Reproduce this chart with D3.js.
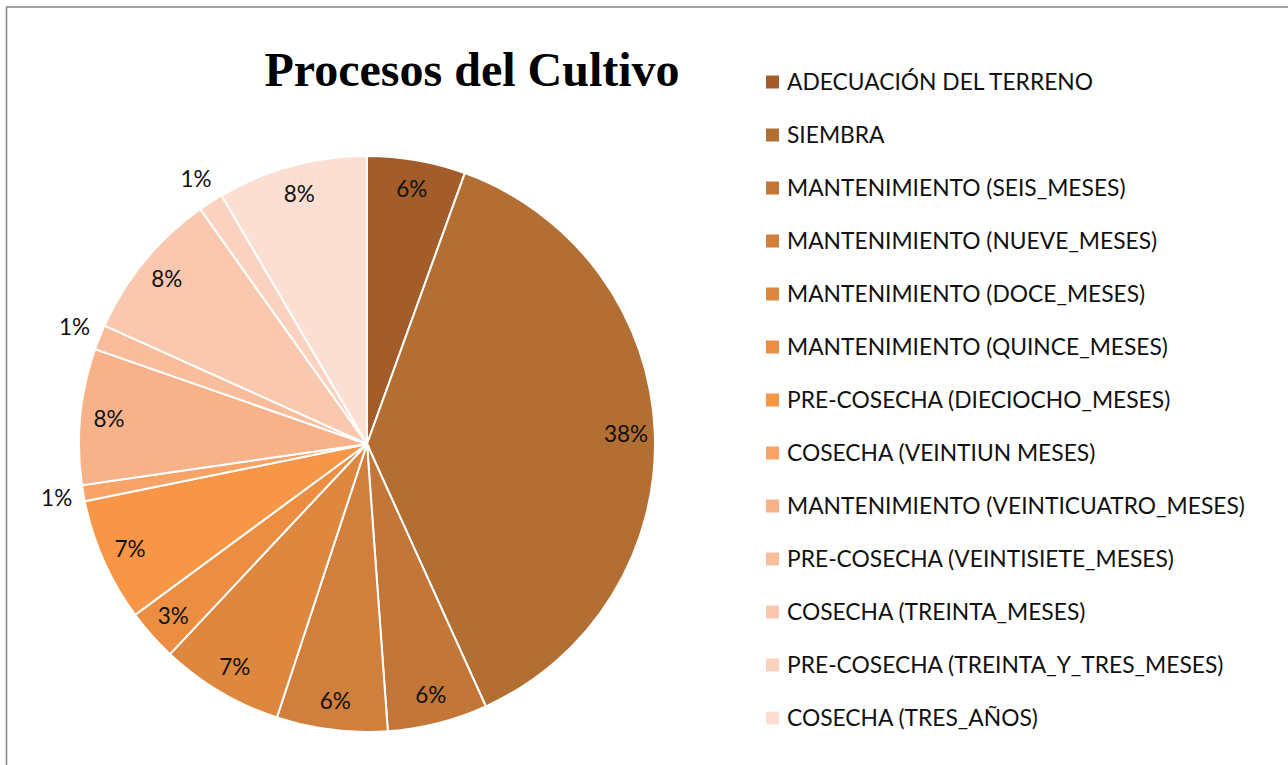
<!DOCTYPE html>
<html>
<head>
    <meta charset="utf-8">
    <script src="https://d3js.org/d3.v7.min.js"></script>
    <style>
        html, body {
            margin: 0;
            padding: 0;
            background: #fff;
        }

        svg {
            display: block;
        }

        .title {
            font-family: "Liberation Serif", "Times New Roman", serif;
            font-weight: bold;
            font-size: 48px;
        }

        .slices path {
            stroke: #fff;
            stroke-width: 2px;
        }

        .labels text, .legend text {
            font-family: Lato, "Open Sans", sans-serif;
            fill: #111;
        }
    </style>
</head>
<body>
<div id="chart"></div>
<script>
    var categories = [
        "ADECUACIÓN DEL TERRENO",
        "SIEMBRA",
        "MANTENIMIENTO (SEIS_MESES)",
        "MANTENIMIENTO (NUEVE_MESES)",
        "MANTENIMIENTO (DOCE_MESES)",
        "MANTENIMIENTO (QUINCE_MESES)",
        "PRE-COSECHA (DIECIOCHO_MESES)",
        "COSECHA (VEINTIUN MESES)",
        "MANTENIMIENTO (VEINTICUATRO_MESES)",
        "PRE-COSECHA (VEINTISIETE_MESES)",
        "COSECHA (TREINTA_MESES)",
        "PRE-COSECHA (TREINTA_Y_TRES_MESES)",
        "COSECHA (TRES_AÑOS)"
    ];

    // share of each process (percent)
    var values = [5.5, 37.6, 5.6, 6.2, 6.9, 2.9, 6.9, 0.9, 7.6, 1.4, 8.4, 1.4, 8.4];

    var colors = [
        "#a25d2b", "#b36f33", "#c27637", "#d07f3c", "#de873f", "#eb8e42",
        "#f79646", "#f8a468", "#f8b28a", "#f9bd9b", "#fac8ae", "#fbd2bf", "#fcdfd3"
    ];

    var width = 1288,
        height = 765,
        cx = 367,
        cy = 444,
        radius = 288;

    var svg = d3.select("#chart").append("svg")
        .attr("width", width)
        .attr("height", height);

    // chart frame (right and bottom edges run off the page)
    svg.append("rect")
        .attr("x", 6.5)
        .attr("y", 7)
        .attr("width", width + 20)
        .attr("height", height + 20)
        .attr("fill", "none")
        .attr("stroke", "#8c8c8c")
        .attr("stroke-width", 1.6);

    svg.append("text")
        .attr("class", "title")
        .attr("x", 472)
        .attr("y", 86)
        .attr("text-anchor", "middle")
        .text("Procesos del Cultivo");

    var total = d3.sum(values);

    var pie = d3.pie().sort(null).value(function (d) {
        return d;
    });

    var arc = d3.arc().innerRadius(0).outerRadius(radius);
    var inLabel = d3.arc().innerRadius(radius * 0.9).outerRadius(radius * 0.9);
    var outLabel = d3.arc().innerRadius(radius + 27).outerRadius(radius + 27);

    var arcs = pie(values);

    var g = svg.append("g")
        .attr("transform", "translate(" + cx + "," + cy + ")");

    g.append("g")
        .attr("class", "slices")
        .selectAll("path")
        .data(arcs)
        .enter().append("path")
        .attr("d", arc)
        .attr("fill", function (d, i) {
            return colors[i];
        });

    g.append("g")
        .attr("class", "labels")
        .selectAll("text")
        .data(arcs)
        .enter().append("text")
        .attr("transform", function (d) {
            var small = d.value / total < 0.02;
            var p = small ? outLabel.centroid(d) : inLabel.centroid(d);
            return "translate(" + p[0] + "," + p[1] + ")";
        })
        .attr("text-anchor", "middle")
        .attr("dy", "0.35em")
        .style("font-size", "22.5px")
        .text(function (d) {
            return Math.round(d.value / total * 100) + "%";
        });

    // legend
    var legend = svg.append("g")
        .attr("class", "legend")
        .selectAll("g")
        .data(categories)
        .enter().append("g")
        .attr("transform", function (d, i) {
            return "translate(766," + (82 + i * 53) + ")";
        });

    legend.append("rect")
        .attr("x", 0)
        .attr("y", -6.5)
        .attr("width", 13)
        .attr("height", 13)
        .attr("fill", function (d, i) {
            return colors[i];
        });

    legend.append("text")
        .attr("x", 21)
        .attr("dy", "0.35em")
        .style("font-size", "22.8px")
        .text(function (d) {
            return d;
        });
</script>
</body>
</html>
